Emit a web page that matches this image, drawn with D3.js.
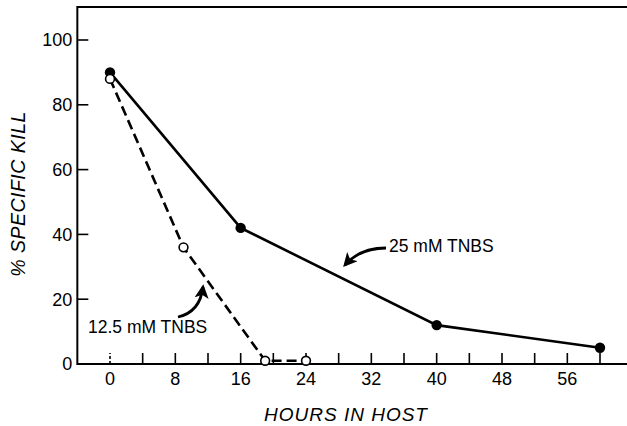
<!DOCTYPE html>
<html>
<head>
<meta charset="utf-8">
<script src="https://cdn.jsdelivr.net/npm/d3@7"></script>
<style>
  html, body { margin: 0; padding: 0; background: #fff; }
  svg { display: block; font-family: 'Liberation Sans', Arial, sans-serif; }
</style>
</head>
<body>
<svg id="chart"></svg>
<script>
'use strict';

// data
const hoursHigh = [0, 16, 40, 60];
const killHigh = [90, 42, 12, 5];
const hoursLow = [0, 9, 19, 24];
const killLow = [88, 36, 1, 1];
const xTickLabels = [0, 8, 16, 24, 32, 40, 48, 56];
const xMinorTicks = [0, 4, 8, 12, 16, 20, 24, 28, 32, 36, 40, 44, 48, 52, 56, 60];
const yTickLabels = [0, 20, 40, 60, 80, 100];

const width = 627;
const height = 426;

const x = d3.scaleLinear().domain([0, 60]).range([110, 600]);
const y = d3.scaleLinear().domain([0, 100]).range([364, 40]);

const svg = d3.select('#chart')
    .attr('width', width)
    .attr('height', height);

/**
 * frame: left axis, bottom axis, top line
 */
svg.append('path')
    .attr('d', 'M' + width + ',' + y(110.2) + 'H' + x(-4) + 'V' + y(0) + 'H' + width)
    .attr('fill', 'none')
    .attr('stroke', '#000')
    .attr('stroke-width', 2);

// y ticks (pointing inside)
svg.selectAll('line.ytick')
    .data(yTickLabels)
    .enter().append('line')
    .attr('class', 'ytick')
    .attr('x1', x(-4))
    .attr('x2', x(-4) + 11)
    .attr('y1', (d) => y(d))
    .attr('y2', (d) => y(d))
    .attr('stroke', '#000')
    .attr('stroke-width', 1.6);

svg.selectAll('text.ylab')
    .data(yTickLabels)
    .enter().append('text')
    .attr('class', 'ylab')
    .attr('x', x(-4) - 5)
    .attr('y', (d) => y(d))
    .attr('dy', '0.36em')
    .attr('text-anchor', 'end')
    .style('font-size', '18px')
    .text((d) => d);

// x ticks, the one at 0 is dashed
svg.selectAll('line.xtick')
    .data(xMinorTicks)
    .enter().append('line')
    .attr('class', 'xtick')
    .attr('x1', (d) => x(d))
    .attr('x2', (d) => x(d))
    .attr('y1', y(0))
    .attr('y2', y(0) - 11)
    .attr('stroke', '#000')
    .attr('stroke-width', 1.6)
    .attr('stroke-dasharray', (d) => d === 0 ? '3,2' : null);

svg.selectAll('text.xlab')
    .data(xTickLabels)
    .enter().append('text')
    .attr('class', 'xlab')
    .attr('x', (d) => x(d))
    .attr('y', y(0) + 20.5)
    .attr('text-anchor', 'middle')
    .style('font-size', '18px')
    .text((d) => d);

// axis titles
svg.append('text')
    .attr('transform', 'translate(25,194) rotate(-90)')
    .attr('text-anchor', 'middle')
    .style('font-size', '19.5px')
    .style('font-style', 'italic')
    .style('letter-spacing', '0.5px')
    .text('% SPECIFIC KILL');

svg.append('text')
    .attr('x', 346)
    .attr('y', 421)
    .attr('text-anchor', 'middle')
    .style('font-size', '19px')
    .style('font-style', 'italic')
    .style('letter-spacing', '1px')
    .text('HOURS IN HOST');

/**
 * series lines
 */
const line = d3.line()
    .x((d) => x(d[0]))
    .y((d) => y(d[1]));

const high = hoursHigh.map((h, i) => [h, killHigh[i]]);
const low = hoursLow.map((h, i) => [h, killLow[i]]);

svg.append('path')
    .datum(high)
    .attr('d', line)
    .attr('fill', 'none')
    .attr('stroke', '#000')
    .attr('stroke-width', 2.6);

svg.append('path')
    .datum(low)
    .attr('d', line)
    .attr('fill', 'none')
    .attr('stroke', '#000')
    .attr('stroke-width', 2.6)
    .attr('stroke-dasharray', '10,5');

svg.selectAll('circle.high')
    .data(high)
    .enter().append('circle')
    .attr('class', 'high')
    .attr('cx', (d) => x(d[0]))
    .attr('cy', (d) => y(d[1]))
    .attr('r', 5.2)
    .attr('fill', '#000');

svg.selectAll('circle.low')
    .data(low)
    .enter().append('circle')
    .attr('class', 'low')
    .attr('cx', (d) => x(d[0]))
    .attr('cy', (d) => y(d[1]))
    .attr('r', 4.4)
    .attr('fill', '#fff')
    .attr('stroke', '#000')
    .attr('stroke-width', 1.6);

/**
 * annotations with curved arrows
 */
svg.append('defs').append('marker')
    .attr('id', 'head')
    .attr('viewBox', '0 0 10 10')
    .attr('refX', 8)
    .attr('refY', 5)
    .attr('markerWidth', 5)
    .attr('markerHeight', 5)
    .attr('markerUnits', 'strokeWidth')
    .attr('orient', 'auto')
    .append('path')
    .attr('d', 'M0,0L10,5L0,10L2.5,5Z')
    .attr('fill', '#000');

svg.append('text')
    .attr('x', 389)
    .attr('y', 252)
    .style('font-size', '17.5px')
    .text('25 mM TNBS');

svg.append('path')
    .attr('d', 'M386,248Q360,248 345,265')
    .attr('fill', 'none')
    .attr('stroke', '#000')
    .attr('stroke-width', 2.8)
    .attr('marker-end', 'url(#head)');

svg.append('text')
    .attr('x', 88)
    .attr('y', 333)
    .style('font-size', '17.5px')
    .text('12.5 mM TNBS');

svg.append('path')
    .attr('d', 'M178,317Q200,312 203,287')
    .attr('fill', 'none')
    .attr('stroke', '#000')
    .attr('stroke-width', 2.8)
    .attr('marker-end', 'url(#head)');
</script>
</body>
</html>
